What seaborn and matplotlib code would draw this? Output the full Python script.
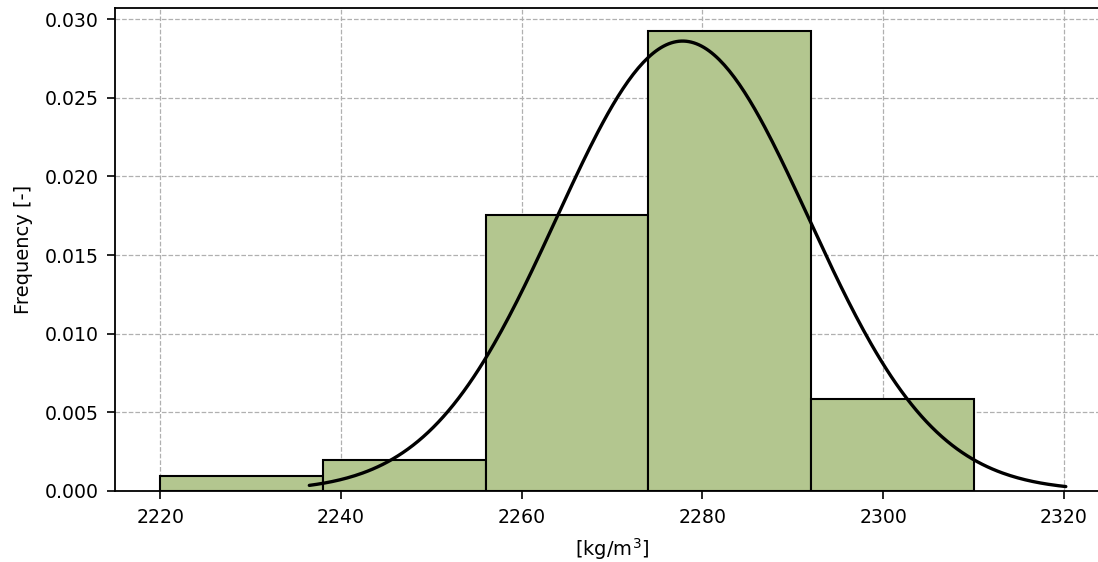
import numpy as np
import pandas as pd
import seaborn as sns
import matplotlib.pyplot as plt

# histogram: bin edges and counts per bin (density = count / (n * width))
bin_edges = [2220, 2238, 2256, 2274, 2292, 2310]
bin_counts = [1, 2, 18, 30, 6]

# fitted normal curve
fit_mean = 2277.8
fit_std = 13.95
curve_start = 2236.5
curve_end = 2320.2

centers = [(a + b) / 2 for a, b in zip(bin_edges[:-1], bin_edges[1:])]
df = pd.DataFrame({"density": centers, "count": bin_counts})

xs = np.linspace(curve_start, curve_end, 300)
pdf = np.exp(-0.5 * ((xs - fit_mean) / fit_std) ** 2) / (fit_std * np.sqrt(2 * np.pi))
curve = pd.DataFrame({"x": xs, "pdf": pdf})

sns.set_style("ticks")
plt.rcParams["font.family"] = ["DejaVu Sans"]
plt.rcParams["text.color"] = "black"
plt.rcParams["axes.labelcolor"] = "black"
plt.rcParams["xtick.color"] = "black"
plt.rcParams["ytick.color"] = "black"

fig = plt.figure(figsize=(10.98, 5.62), dpi=100)
ax = fig.add_axes([115 / 1098, 71 / 562, 994.2 / 1098, 483 / 562])

sns.histplot(data=df, x="density", weights="count", bins=bin_edges, stat="density",
             color="#b3c68f", alpha=1.0, edgecolor="black", linewidth=1.5, ax=ax)
sns.lineplot(data=curve, x="x", y="pdf", color="black", linewidth=2.4, ax=ax)

ax.set_xlim(2215, 2325)
ax.set_ylim(0, 0.0307)
ax.set_xticks([2220, 2240, 2260, 2280, 2300, 2320])
ax.set_yticks([0.0, 0.005, 0.010, 0.015, 0.020, 0.025, 0.030])
ax.yaxis.set_major_formatter(plt.FuncFormatter(lambda v, p: f"{v:.3f}"))
ax.set_xlabel("[kg/m$^3$]", fontsize=14, labelpad=7)
ax.set_ylabel("Frequency [-]", fontsize=14, labelpad=8)
ax.tick_params(labelsize=13.6, width=1.2, length=6, pad=6, color="black", labelcolor="black")
ax.grid(True, linestyle="--", color="#b0b0b0", linewidth=0.9)
ax.set_axisbelow(True)
for s in ax.spines.values():
    s.set_linewidth(1.3)
    s.set_color("black")

fig.savefig("out.png", dpi=100)
